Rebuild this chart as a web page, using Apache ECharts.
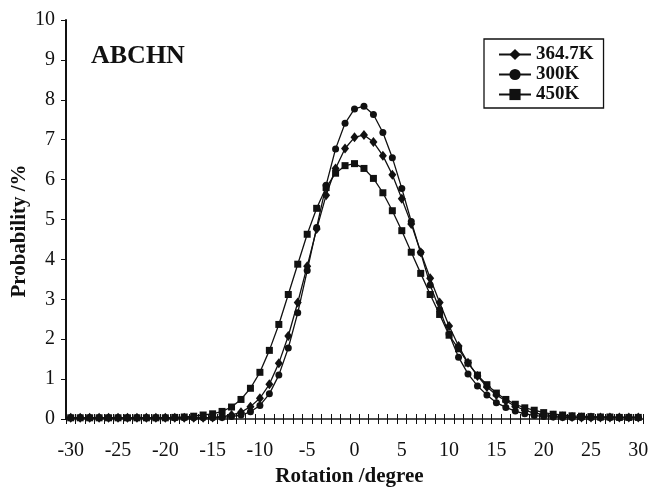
<!DOCTYPE html>
<html>
<head>
<meta charset="utf-8">
<script src="https://cdn.jsdelivr.net/npm/echarts@6/dist/echarts.min.js"></script>
<style>
  html, body { margin: 0; padding: 0; background: #fff; }
  #chart { width: 653px; height: 487px; }
</style>
</head>
<body>
<div id="chart"></div>
<script>
// Rotation angle categories (degrees)
const rotations = [
  -30, -29, -28, -27, -26, -25, -24, -23, -22, -21,
  -20, -19, -18, -17, -16, -15, -14, -13, -12, -11,
  -10, -9, -8, -7, -6, -5, -4, -3, -2, -1,
  0, 1, 2, 3, 4, 5, 6, 7, 8, 9,
  10, 11, 12, 13, 14, 15, 16, 17, 18, 19,
  20, 21, 22, 23, 24, 25, 26, 27, 28, 29, 30
];

// Probability (%) at 364.7 K
const prob3647K = [
  0.03, 0.03, 0.03, 0.03, 0.03, 0.03, 0.03, 0.03, 0.03, 0.03,
  0.03, 0.03, 0.03, 0.03, 0.03, 0.04, 0.06, 0.10, 0.17, 0.31,
  0.52, 0.87, 1.40, 2.08, 2.92, 3.83, 4.76, 5.61, 6.28, 6.78,
  7.06, 7.12, 6.94, 6.60, 6.12, 5.52, 4.89, 4.18, 3.53, 2.92,
  2.33, 1.83, 1.41, 1.08, 0.80, 0.60, 0.45, 0.32, 0.22, 0.15,
  0.11, 0.08, 0.06, 0.05, 0.04, 0.04, 0.04, 0.04, 0.04, 0.04, 0.04
];

// Probability (%) at 300 K
const prob300K = [
  0.03, 0.03, 0.03, 0.03, 0.03, 0.03, 0.03, 0.03, 0.03, 0.03,
  0.03, 0.03, 0.03, 0.03, 0.03, 0.03, 0.04, 0.06, 0.10, 0.18,
  0.34, 0.63, 1.10, 1.78, 2.66, 3.72, 4.80, 5.86, 6.77, 7.41,
  7.77, 7.84, 7.63, 7.18, 6.55, 5.78, 4.95, 4.17, 3.36, 2.74,
  2.13, 1.55, 1.13, 0.83, 0.60, 0.41, 0.29, 0.20, 0.13, 0.09,
  0.06, 0.05, 0.04, 0.04, 0.04, 0.04, 0.04, 0.04, 0.04, 0.04, 0.04
];

// Probability (%) at 450 K
const prob450K = [
  0.03, 0.03, 0.03, 0.03, 0.03, 0.03, 0.03, 0.03, 0.03, 0.03,
  0.03, 0.04, 0.05, 0.07, 0.10, 0.13, 0.19, 0.30, 0.49, 0.77,
  1.17, 1.72, 2.37, 3.12, 3.88, 4.63, 5.28, 5.80, 6.16, 6.35,
  6.40, 6.28, 6.03, 5.67, 5.22, 4.72, 4.18, 3.65, 3.12, 2.62,
  2.10, 1.76, 1.40, 1.10, 0.86, 0.65, 0.49, 0.37, 0.28, 0.22,
  0.16, 0.12, 0.10, 0.08, 0.07, 0.06, 0.05, 0.05, 0.04, 0.04, 0.04
];

// Value-axis tick labels
const probTicks = [0, 1, 2, 3, 4, 5, 6, 7, 8, 9, 10];

const FONT = "'Liberation Serif', 'DejaVu Serif', serif";
const INK = '#111';

const chart = echarts.init(document.getElementById('chart'), null, { renderer: 'canvas' });

function curve(name, data, symbol, size) {
  return {
    name: name,
    type: 'line',
    data: data,
    symbol: symbol,
    symbolSize: size,
    showSymbol: true,
    showAllSymbol: true,
    lineStyle: { color: INK, width: 1.3 },
    itemStyle: { color: INK, borderColor: INK, borderWidth: 0 },
    emphasis: { disabled: true },
    animation: false
  };
}

chart.setOption({
  backgroundColor: '#fff',
  animation: false,
  grid: { left: 66, right: 10, top: 20, bottom: 68, containLabel: false, outerBoundsMode: 'none' },
  graphic: [{
    type: 'text',
    left: 91,
    top: 43,
    style: {
      text: 'ABCHN',
      font: 'bold 26px ' + FONT,
      fill: INK
    }
  }],
  legend: {
    orient: 'vertical',
    left: 484,
    top: 39,
    padding: [6, 10, 4, 14],
    itemWidth: 32,
    itemHeight: 14,
    itemGap: 1,
    borderColor: INK,
    borderWidth: 1.3,
    data: ['364.7K', '300K', '450K'],
    textStyle: { fontFamily: FONT, fontWeight: 'bold', fontSize: 19, color: INK }
  },
  xAxis: [{
    type: 'category',
    data: rotations,
    boundaryGap: true,
    position: 'bottom',
    name: 'Rotation /degree',
    nameLocation: 'middle',
    nameGap: 47,
    nameMoveOverlap: false,
    nameTextStyle: { fontFamily: FONT, fontWeight: 'bold', fontSize: 21, color: INK, padding: [0, 10, 0, 0] },
    axisLine: { show: true, lineStyle: { color: INK, width: 1.5 } },
    axisTick: { show: true, interval: 0, length: 5, lineStyle: { color: INK, width: 1 } },
    axisLabel: { interval: 4, margin: 22, fontFamily: FONT, fontSize: 20, color: INK },
    splitLine: { show: false }
  }, {
    // companion axis so the category ticks cross the baseline
    type: 'category',
    data: rotations,
    boundaryGap: true,
    position: 'bottom',
    axisLine: { show: false },
    axisTick: { show: true, inside: true, interval: 0, length: 5, lineStyle: { color: INK, width: 1 } },
    axisLabel: { show: false },
    splitLine: { show: false }
  }],
  yAxis: {
    type: 'value',
    min: probTicks[0],
    max: probTicks[probTicks.length - 1],
    interval: 1,
    name: 'Probability /%',
    nameLocation: 'middle',
    nameRotate: 90,
    nameGap: 36,
    nameMoveOverlap: false,
    nameTextStyle: { fontFamily: FONT, fontWeight: 'bold', fontSize: 21, color: INK, padding: [0, 23, 0, 0] },
    axisLine: { show: true, lineStyle: { color: INK, width: 2 } },
    axisTick: { show: true, length: 5, lineStyle: { color: INK, width: 1 } },
    axisLabel: { margin: 11, fontFamily: FONT, fontSize: 20, color: INK },
    splitLine: { show: false }
  },
  series: [
    curve('364.7K', prob3647K, 'diamond', [8, 10]),
    curve('300K', prob300K, 'circle', 7),
    curve('450K', prob450K, 'rect', 7)
  ]
});
</script>
</body>
</html>
